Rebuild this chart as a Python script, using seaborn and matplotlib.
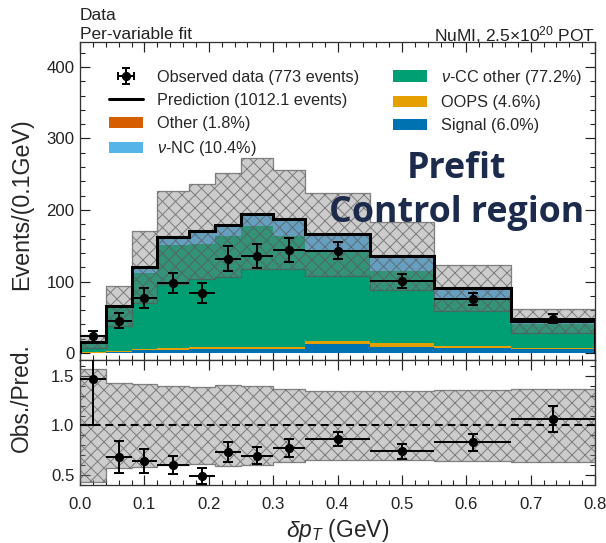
import numpy as np
import pandas as pd
import matplotlib
matplotlib.use("Agg")
import matplotlib.pyplot as plt
from matplotlib.patches import Patch
from matplotlib.lines import Line2D
from matplotlib.ticker import MultipleLocator
import seaborn as sns

# binning in delta pT (GeV)
bin_edges = [0.0, 0.04, 0.08, 0.12, 0.17, 0.21, 0.25, 0.30, 0.35, 0.45, 0.55, 0.67, 0.80]

# predicted components, events / 0.1 GeV
signal = [0.5, 1.0, 4.0, 4.5, 5.0, 5.0, 5.0, 6.0, 12.0, 9.0, 7.0, 5.0]
oops = [0.5, 1.5, 1.5, 2.0, 3.0, 3.0, 3.0, 3.0, 5.0, 5.0, 3.0, 2.0]
cc_other = [11.0, 62.5, 106.5, 144.5, 145.0, 155.0, 169.0, 155.0, 127.0, 100.0, 64.0, 34.0]
nu_nc = [3.5, 0.7, 7.5, 10.5, 15.0, 15.0, 17.0, 21.5, 20.0, 19.5, 15.5, 3.2]
other = [0.5, 0.3, 0.5, 0.5, 2.0, 1.0, 1.0, 1.5, 2.0, 2.5, 1.5, 0.8]

# fractional systematic uncertainty on the prediction
pred_unc = [0.57, 0.43, 0.42, 0.40, 0.39, 0.41, 0.40, 0.37, 0.35, 0.35, 0.36, 0.37]

# observed data
obs = [23.5, 45.0, 77.0, 97.5, 84.0, 132.0, 136.0, 144.0, 143.0, 100.7, 75.5, 48.0]
obs_err = [7.5, 10.5, 14.0, 14.0, 14.0, 18.0, 16.5, 17.0, 12.0, 10.0, 8.0, 6.0]

comp_names = ["Other", "nu-NC", "nu-CC other", "OOPS", "Signal"]
comp_labels = ["Other (1.8%)", r"$\nu$-NC (10.4%)", r"$\nu$-CC other (77.2%)", "OOPS (4.6%)", "Signal (6.0%)"]
comp_colors = ["#D55E00", "#56B4E9", "#009E73", "#E69F00", "#0072B2"]

sns.set_style("ticks")
plt.rcParams["font.family"] = ["Liberation Sans", "DejaVu Sans"]
plt.rcParams["mathtext.fontset"] = "custom"
plt.rcParams["mathtext.rm"] = "Liberation Sans"
plt.rcParams["mathtext.it"] = "Liberation Sans:italic"
plt.rcParams["hatch.linewidth"] = 0.9

DPI = 78
fig = plt.figure(figsize=(606 / DPI, 543 / DPI), dpi=DPI)
ax = fig.add_axes([0.132, 0.337, 0.850, 0.5857])
rax = fig.add_axes([0.132, 0.1068, 0.850, 0.2302])

edges = np.array(bin_edges)
centers = (edges[:-1] + edges[1:]) / 2
halfw = np.diff(edges) / 2

# stacked prediction via seaborn (first hue level ends up on top)
rows = []
for name, vals in zip(comp_names, [other, nu_nc, cc_other, oops, signal]):
    for c, v in zip(centers, vals):
        rows.append({"x": c, "w": v, "comp": name})
df = pd.DataFrame(rows)
sns.histplot(df, x="x", weights="w", hue="comp", hue_order=comp_names,
             palette=dict(zip(comp_names, comp_colors)), bins=list(bin_edges),
             multiple="stack", element="step", stat="count", alpha=1,
             linewidth=0, legend=False, ax=ax)

pred = np.array(signal) + np.array(oops) + np.array(cc_other) + np.array(nu_nc) + np.array(other)
unc = np.array(pred_unc)
lo = pred * (1 - unc)
hi = pred * (1 + unc)

band_kw = dict(step="post", facecolor=(0.5, 0.5, 0.5, 0.4),
               edgecolor=(0.35, 0.35, 0.35, 0.7), hatch="xx", linewidth=1.2, zorder=3)
ax.fill_between(edges, np.append(lo, lo[-1]), np.append(hi, hi[-1]), **band_kw)
ax.stairs(pred, edges, color="black", linewidth=2.8, zorder=4)

ax.errorbar(centers, obs, xerr=halfw, fmt="none", ecolor="black", elinewidth=1.8, zorder=5)
ax.errorbar(centers, obs, yerr=obs_err, fmt="o", color="black", ms=7.5,
            elinewidth=1.8, capsize=4.6, capthick=1.8, zorder=5)

# ratio panel
ratio = np.array(obs) / pred
ratio_err = np.array(obs_err) / pred
rax.fill_between(edges, np.append(1 - unc, 1 - unc[-1]), np.append(1 + unc, 1 + unc[-1]), **band_kw)
rax.axhline(1.0, color="black", ls="--", lw=1.8, dashes=(4, 2.5), zorder=4)
rax.errorbar(centers, ratio, xerr=halfw, fmt="none", ecolor="black", elinewidth=1.8, zorder=5)
rax.errorbar(centers, ratio, yerr=ratio_err, fmt="o", color="black", ms=7.5,
             elinewidth=1.8, capsize=4.6, capthick=1.8, zorder=5)

# axes cosmetics
ax.set_xlim(0, 0.8)
ax.set_ylim(-9.8, 435)
rax.set_xlim(0, 0.8)
rax.set_ylim(0.4, 1.66)
for a in (ax, rax):
    a.xaxis.set_major_locator(MultipleLocator(0.1))
    a.xaxis.set_minor_locator(MultipleLocator(0.02))
    a.tick_params(which="both", direction="in", top=True, right=True, labelsize=15.5, colors="#222222")
    a.tick_params(which="major", length=9, width=1.1, pad=5)
    a.tick_params(which="minor", length=4.5, width=1.0)
    for s in a.spines.values():
        s.set_color("#333333")
        s.set_linewidth(1.2)
    a.set_xlabel("")
    a.set_ylabel("")
ax.yaxis.set_major_locator(MultipleLocator(100))
ax.yaxis.set_minor_locator(MultipleLocator(20))
ax.tick_params(labelbottom=False)
rax.tick_params(axis="x", which="major", pad=11)
rax.yaxis.set_major_locator(MultipleLocator(0.5))
rax.yaxis.set_minor_locator(MultipleLocator(0.1))
rax.set_yticks([0.5, 1.0, 1.5])
rax.set_yticklabels(["0.5", "1.0", "1.5"])

ax.set_ylabel("Events/(0.1GeV)", fontsize=21.5)
rax.set_ylabel("Obs./Pred.", fontsize=21)
rax.set_xlabel(r"$\delta p_T$ (GeV)", fontsize=21, labelpad=5)
ax.yaxis.set_label_coords(-0.091, 0.49)
rax.yaxis.set_label_coords(-0.091, 0.70)

# legend
data_h = ax.errorbar(np.nan, np.nan, xerr=1, yerr=1, fmt="o", color="black", ms=7.5,
                     elinewidth=1.8, capsize=4.0, capthick=1.8)
handles = [data_h, Line2D([], [], color="black", lw=2.8)]
labels = ["Observed data (773 events)", "Prediction (1012.1 events)"]
for lab, col in zip(comp_labels, comp_colors):
    handles.append(Patch(facecolor=col, edgecolor="none"))
    labels.append(lab)
ax.legend(handles, labels, ncol=2, loc="upper left", bbox_to_anchor=(0.043, 0.939),
          frameon=False, fontsize=15, handlelength=2.1, handletextpad=0.85,
          columnspacing=2.1, labelspacing=0.5, borderaxespad=0)

# header text
fig.text(80 / 606, 1 - 15 / 543, "Data", fontsize=16, va="center", ha="left", color="#222222")
fig.text(80 / 606, 1 - 35 / 543, "Per-variable fit", fontsize=16, va="center", ha="left", color="#222222")
fig.text(595 / 606, 1 - 35 / 543, r"NuMI, 2.5$\times$10$^{20}$ POT", fontsize=16,
         va="center", ha="right", color="#222222")

fig.text(457 / 606, 1 - 169 / 543, "Prefit", fontsize=33, fontweight="bold",
         family=["Open Sans", "DejaVu Sans"], color="#1c2b4b", ha="center", va="center")
fig.text(457 / 606, 1 - 213 / 543, "Control region", fontsize=33, fontweight="bold",
         family=["Open Sans", "DejaVu Sans"], color="#1c2b4b", ha="center", va="center")

fig.savefig("out.png", dpi=DPI)
